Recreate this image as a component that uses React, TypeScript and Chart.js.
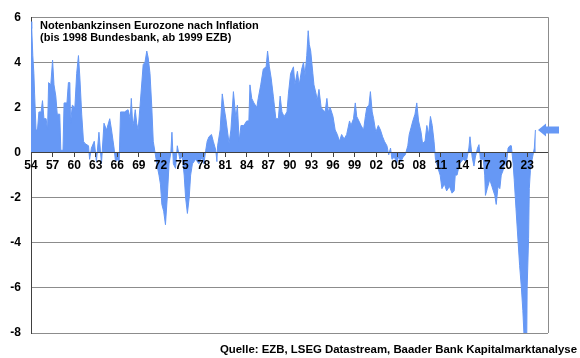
import React, { useEffect, useRef } from 'react';
import { Chart, registerables } from 'chart.js';

Chart.register(...registerables);

// Decimal year of each reading
const years: number[] = [
  1954.0, 1954.1, 1954.25, 1954.4, 1954.5, 1954.7, 1954.9, 1955.1, 1955.4, 1955.6, 1955.8,
  1956.1, 1956.3, 1956.45, 1956.75, 1957.0, 1957.2, 1957.45, 1957.65, 1958.0, 1958.15, 1958.45,
  1958.6, 1959.0, 1959.2, 1959.4, 1959.5, 1959.75, 1960.1, 1960.35, 1960.6, 1960.8, 1961.05,
  1961.3, 1961.5, 1962.0, 1962.15, 1962.4, 1962.8, 1963.1, 1963.45, 1963.8, 1964.15, 1964.5,
  1964.95, 1965.2, 1965.55, 1965.75, 1966.1, 1966.25, 1966.45, 1967.0, 1967.5, 1967.8, 1967.95,
  1968.15, 1968.3, 1968.5, 1968.7, 1968.9, 1969.15, 1969.6, 1969.85, 1970.1, 1970.3, 1970.55,
  1970.8, 1971.0, 1971.3, 1971.55, 1971.8, 1972.0, 1972.2, 1972.45, 1972.7, 1972.95, 1973.2,
  1973.45, 1973.6, 1973.8, 1974.1, 1974.35, 1974.7, 1975.05, 1975.3, 1975.5, 1975.75, 1976.0,
  1976.2, 1976.45, 1976.9, 1977.35, 1977.8, 1978.05, 1978.3, 1978.5, 1978.75, 1979.1, 1979.35,
  1979.7, 1979.85, 1979.95, 1980.3, 1980.6, 1980.85, 1981.1, 1981.3, 1981.55, 1981.8, 1982.15,
  1982.5, 1982.7, 1982.95, 1983.2, 1983.6, 1984.0, 1984.3, 1984.45, 1984.7, 1985.0, 1985.4,
  1985.6, 1985.95, 1986.3, 1986.7, 1986.9, 1987.15, 1987.4, 1987.7, 1988.05, 1988.4, 1988.65,
  1988.9, 1989.2, 1989.6, 1989.8, 1990.1, 1990.5, 1990.7, 1991.05, 1991.3, 1991.65, 1991.9,
  1992.1, 1992.35, 1992.55, 1992.7, 1992.9, 1993.2, 1993.35, 1993.65, 1993.8, 1994.05, 1994.35,
  1994.6, 1994.9, 1995.15, 1995.35, 1995.6, 1996.0, 1996.3, 1996.6, 1996.9, 1997.2, 1997.55,
  1997.9, 1998.3, 1998.5, 1998.85, 1999.1, 1999.3, 1999.6, 1999.9, 2000.25, 2000.5, 2000.7,
  2001.0, 2001.2, 2001.45, 2001.65, 2001.95, 2002.3, 2002.6, 2002.9, 2003.15, 2003.5, 2003.75,
  2004.0, 2004.2, 2004.55, 2004.85, 2005.1, 2005.45, 2005.75, 2006.05, 2006.4, 2006.6, 2006.85,
  2007.1, 2007.4, 2007.65, 2007.9, 2008.25, 2008.45, 2008.8, 2009.05, 2009.3, 2009.55, 2009.8,
  2010.05, 2010.25, 2010.6, 2010.9, 2011.15, 2011.5, 2011.8, 2012.2, 2012.55, 2012.85, 2013.0,
  2013.25, 2013.6, 2014.1, 2014.55, 2014.9, 2015.05, 2015.35, 2015.6, 2015.8, 2016.1, 2016.3,
  2016.5, 2016.9, 2017.1, 2017.2, 2017.45, 2017.8, 2018.1, 2018.5, 2018.7, 2018.95, 2019.2,
  2019.4, 2019.65, 2019.9, 2020.1, 2020.35, 2020.6, 2020.8, 2021.05, 2021.2, 2021.45, 2021.75,
  2021.95, 2022.2, 2022.4, 2022.55, 2022.95, 2023.0, 2023.2, 2023.3, 2023.45, 2023.7, 2024.0,
  2024.15, 2024.2,
];

// Real policy rate (percent) at each reading
const rates: number[] = [
  5.8, 5.5, 4.3, 3.5, 2.6, 1.0, 1.0, 1.8, 1.8, 2.3, 1.5,
  1.5, 1.0, 3.1, 3.0, 4.1, 3.0, 2.5, 1.7, 1.7, 0.1, 0.1,
  2.2, 2.2, 3.1, 3.1, 1.3, 2.1, 2.0, 3.5, 4.3, 3.3, 1.7,
  0.5, 0.4, 0.3, -0.3, 0.2, 0.5, -0.4, 0.9, -0.5, 1.3, 1.0,
  1.5, 1.0, 0.2, -0.4, -0.3, -0.5, 1.8, 1.8, 1.9, 1.5, 2.4,
  1.2, 1.4, 1.9, 1.3, 1.0, 2.0, 3.9, 4.0, 4.5, 4.2, 3.5,
  2.0, 0.5, -0.1, -0.6, -1.0, -1.4, -2.3, -2.6, -3.2, -2.0, -0.5,
  0.0, 0.9, -0.5, -0.7, 0.3, -0.3, -0.2, -1.0, -2.0, -2.7, -2.0,
  -1.0, -0.5, -0.3, -0.5, -0.2, -0.5, 0.1, 0.5, 0.7, 0.8, 0.5,
  0.1, -0.4, 0.3, 1.0, 2.6, 2.0, 1.5, 1.0, 0.4, 1.0, 2.7,
  1.5, 2.1, 0.5, 1.2, 1.2, 1.4, 1.4, 3.0, 2.4, 2.2, 2.0,
  2.4, 3.0, 3.7, 3.8, 4.5, 3.8, 3.3, 2.5, 1.5, 1.5, 2.5,
  1.8, 1.6, 1.8, 2.6, 3.5, 3.8, 3.0, 3.6, 3.0, 3.7, 4.0,
  3.4, 4.3, 5.4, 4.8, 4.5, 3.5, 3.0, 2.6, 2.3, 2.8, 2.0,
  1.9, 1.8, 2.4, 1.8, 2.0, 1.6, 1.0, 0.8, 0.5, 0.8, 0.6,
  0.8, 1.4, 1.2, 1.5, 2.2, 1.6, 1.4, 1.2, 1.0, 1.6, 2.0,
  2.1, 2.7, 1.8, 1.5, 0.9, 1.2, 1.0, 0.7, 0.5, 0.3, -0.1,
  0.2, -0.3, -0.2, -0.5, -0.2, -0.4, -0.2, -0.1, 0.3, 0.8, 1.1,
  1.4, 1.7, 2.2, 1.4, 0.9, 0.4, 0.5, 1.2, 0.8, 1.6, 1.2,
  0.5, -0.3, -0.7, -1.0, -1.6, -1.4, -1.7, -1.5, -1.8, -1.7, -1.0,
  -1.0, -0.5, -0.3, -0.4, 0.2, 0.7, -0.2, -0.6, -0.2, 0.2, 0.35,
  -0.3, -0.3, -1.0, -1.9, -1.6, -1.2, -1.5, -1.9, -2.3, -1.5, -1.6,
  -1.0, -0.8, -0.4, -0.6, 0.2, 0.3, 0.3, -0.5, -1.2, -2.5, -4.0,
  -5.0, -6.0, -7.0, -8.0, -8.0, -6.0, -3.8, -1.6, -0.8, -0.3, 0.2,
  1.0, 1.0,
];

const xTickYears: number[] = [
  1954, 1957, 1960, 1963, 1966, 1969, 1972, 1975, 1978, 1981, 1984, 1987,
  1990, 1993, 1996, 1999, 2002, 2005, 2008, 2011, 2014, 2017, 2020, 2023,
];

const titleLines: string[] = [
  'Notenbankzinsen Eurozone nach Inflation',
  '(bis 1998 Bundesbank, ab 1999 EZB)',
];
const sourceText = 'Quelle: EZB, LSEG Datastream, Baader Bank Kapitalmarktanalyse';

const FILL = 'rgb(102,152,245)';
const FONT = '"Liberation Sans", Arial, sans-serif';

export default function App() {
  const canvasRef = useRef<HTMLCanvasElement | null>(null);

  useEffect(() => {
    const canvas = canvasRef.current;
    if (!canvas) return;

    const framePlugin = {
      id: 'frameAndArrow',
      afterDraw(chart: any) {
        const { ctx, chartArea: a, scales } = chart;
        ctx.save();
        ctx.strokeStyle = '#8c8c8c';
        ctx.lineWidth = 1;
        ctx.beginPath();
        ctx.moveTo(Math.round(a.right) + 0.5, a.top);
        ctx.lineTo(Math.round(a.right) + 0.5, a.bottom);
        ctx.stroke();
        const y = scales.y.getPixelForValue(rates[rates.length - 1]);
        const tip = a.right - 10;
        ctx.fillStyle = FILL;
        ctx.beginPath();
        ctx.moveTo(tip, y);
        ctx.lineTo(tip + 8, y - 6.5);
        ctx.lineTo(tip + 8, y - 3.5);
        ctx.lineTo(tip + 21, y - 3.5);
        ctx.lineTo(tip + 21, y + 3.5);
        ctx.lineTo(tip + 8, y + 3.5);
        ctx.lineTo(tip + 8, y + 6.5);
        ctx.closePath();
        ctx.fill();
        ctx.restore();
      },
    };

    const chart = new Chart(canvas, {
      type: 'line',
      data: {
        datasets: [
          {
            data: years.map((x, i) => ({ x, y: rates[i] })),
            fill: 'origin',
            backgroundColor: FILL,
            borderColor: FILL,
            borderWidth: 1,
            pointRadius: 0,
            tension: 0,
          },
        ],
      },
      options: {
        responsive: false,
        animation: false,
        layout: { padding: { left: 0, right: 32, top: 16, bottom: 25 } },
        plugins: { legend: { display: false }, tooltip: { enabled: false } },
        scales: {
          x: {
            type: 'linear',
            position: { y: 0 } as any,
            min: 1954,
            max: 2025.9,
            afterBuildTicks: (s: any) => {
              s.ticks = xTickYears.map((v) => ({ value: v }));
            },
            ticks: {
              z: 2,
              autoSkip: false,
              maxRotation: 0,
              padding: 2,
              color: '#000',
              font: { family: FONT, size: 12, weight: 'bold' },
              callback: (v: any) => String(Number(v) % 100).padStart(2, '0'),
            },
            grid: { z: 1, drawOnChartArea: false, drawTicks: true, tickLength: 4, color: '#404040' },
            border: { z: 1, display: true, color: '#404040', width: 1 },
          } as any,
          y: {
            min: -8,
            max: 6,
            afterFit: (s: any) => {
              s.width = 31;
            },
            ticks: {
              stepSize: 2,
              padding: 10,
              color: '#000',
              font: { family: FONT, size: 12, weight: 'bold' },
            },
            grid: { drawTicks: false, color: '#8c8c8c', lineWidth: 1 },
            border: { display: true, color: '#404040', width: 1 },
          },
        },
      },
      plugins: [framePlugin],
    });

    return () => chart.destroy();
  }, []);

  return (
    <div style={{ position: 'absolute', left: 0, top: 0, width: 580, height: 358, background: '#fff' }}>
      <canvas ref={canvasRef} width={580} height={358} style={{ display: 'block' }} />
      {titleLines.map((t, i) => (
        <div
          key={i}
          style={{
            position: 'absolute',
            left: 40,
            top: 19 + i * 12,
            fontFamily: FONT,
            fontWeight: 'bold',
            fontSize: 11,
            lineHeight: '12px',
            color: '#000',
            whiteSpace: 'nowrap',
          }}
        >
          {t}
        </div>
      ))}
      <div
        style={{
          position: 'absolute',
          left: 0,
          width: 577,
          top: 342,
          textAlign: 'right',
          fontFamily: FONT,
          fontWeight: 'bold',
          fontSize: 11.4,
          lineHeight: '14px',
          color: '#000',
          whiteSpace: 'nowrap',
        }}
      >
        {sourceText}
      </div>
    </div>
  );
}
